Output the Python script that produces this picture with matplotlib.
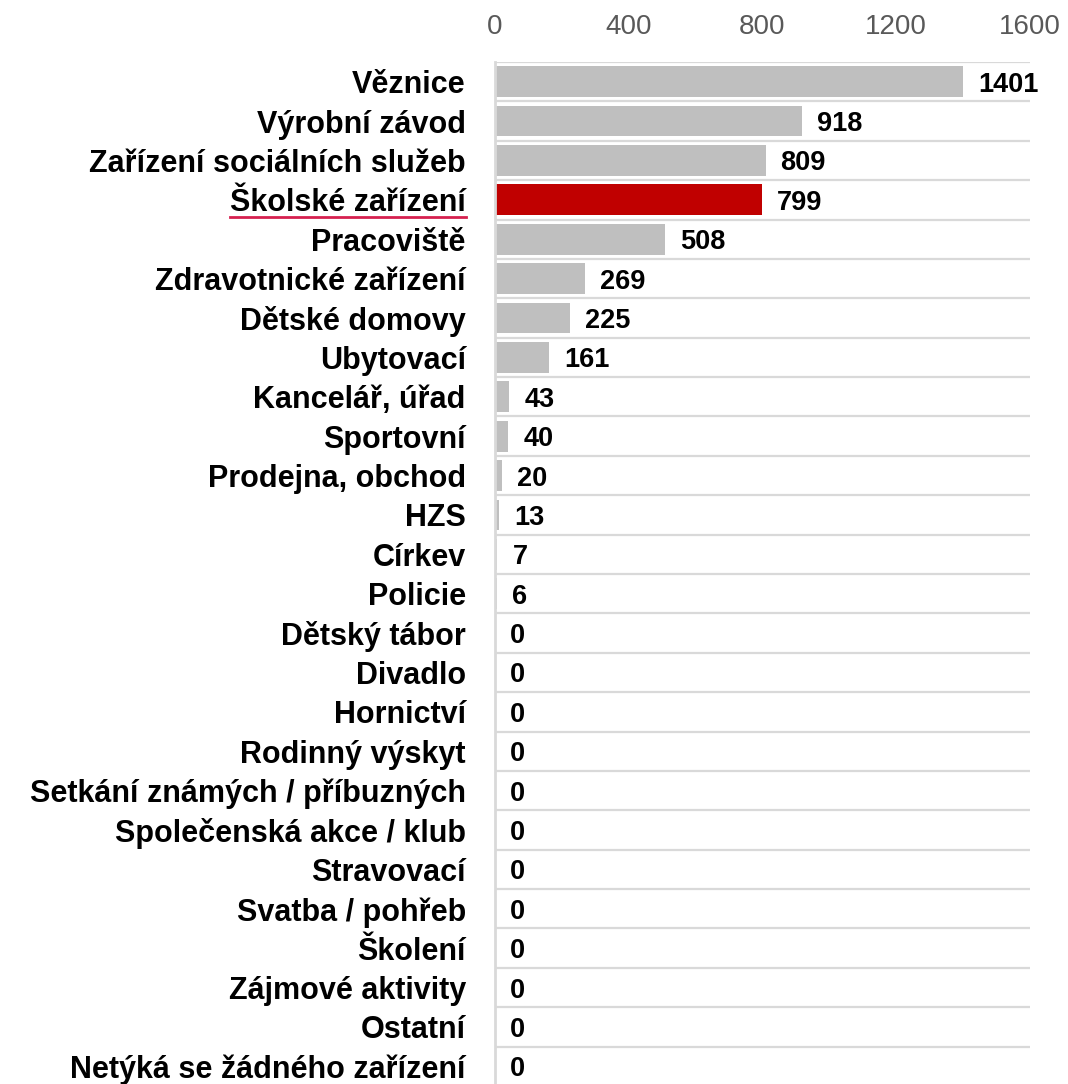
import matplotlib
matplotlib.use("Agg")
import matplotlib.pyplot as plt
from matplotlib.lines import Line2D

categories = ["Věznice", "Výrobní závod", "Zařízení sociálních služeb", "Školské zařízení",
              "Pracoviště", "Zdravotnické zařízení", "Dětské domovy", "Ubytovací",
              "Kancelář, úřad", "Sportovní", "Prodejna, obchod", "HZS", "Církev", "Policie",
              "Dětský tábor", "Divadlo", "Hornictví", "Rodinný výskyt",
              "Setkání známých / příbuzných", "Společenská akce / klub", "Stravovací",
              "Svatba / pohřeb", "Školení", "Zájmové aktivity", "Ostatní",
              "Netýká se žádného zařízení"]
values = [1401, 918, 809, 799, 508, 269, 225, 161, 43, 40, 20, 13, 7, 6,
          0, 0, 0, 0, 0, 0, 0, 0, 0, 0, 0, 0]
highlight = "Školské zařízení"
xticks = [0, 400, 800, 1200, 1600]

plt.rcParams['font.family'] = ['Liberation Sans', 'DejaVu Sans']

fig = plt.figure(figsize=(10.68, 10.84), dpi=100)
n = len(categories)
top_px = 62
bottom_px = 1086
ax = fig.add_axes([495 / 1068, 1 - bottom_px / 1084, (1030 - 495) / 1068,
                   (bottom_px - top_px) / 1084])

colors = ["#c00000" if c == highlight else "#bfbfbf" for c in categories]
ys = list(range(n))
ax.barh(ys, values, height=0.78, color=colors, zorder=3)
ax.set_xlim(0, 1600)
ax.set_ylim(n - 0.5, -0.5)

for y in range(n + 1):
    ax.axhline(y - 0.5, color="#d9d9d9", lw=1.6, zorder=1)

for y, v in zip(ys, values):
    ax.text(v + 45, y, str(v), va="center_baseline", ha="left", fontsize=19.5,
            fontweight="bold", color="black")

ax.set_yticks(ys)
ax.set_yticklabels(categories, fontsize=22, fontweight="bold", color="black")
ax.tick_params(axis="y", length=0, pad=21)
ax.xaxis.tick_top()
ax.set_xticks(xticks)
ax.set_xticklabels([str(t) for t in xticks], fontsize=20, color="#595959")
ax.tick_params(axis="x", length=0, pad=16)

for s in ["top", "right", "bottom"]:
    ax.spines[s].set_visible(False)
ax.spines["left"].set_color("#d9d9d9")
ax.spines["left"].set_linewidth(2)
ax.spines["left"].set_zorder(4)

fig.canvas.draw()
renderer = fig.canvas.get_renderer()
for lbl in ax.get_yticklabels():
    if lbl.get_text() == highlight:
        bb = lbl.get_window_extent(renderer)
        inv = fig.transFigure.inverted()
        (x0, y0), (x1, y1) = inv.transform([(bb.x0, bb.y0), (bb.x1, bb.y0)])
        yline = y0 + 1 / 1084
        fig.add_artist(Line2D([x0, x1], [yline, yline], transform=fig.transFigure,
                              color="#d6204f", lw=2))

fig.savefig("out.png", dpi=100)
